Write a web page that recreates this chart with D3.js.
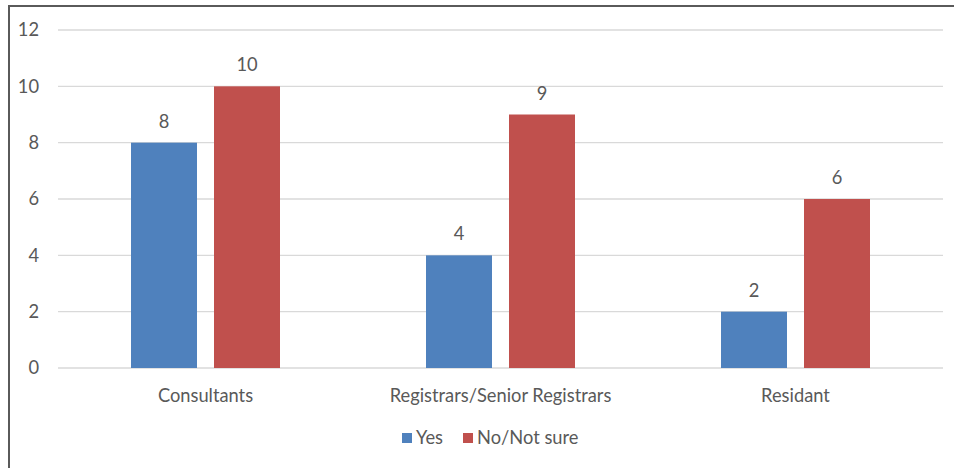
<!DOCTYPE html>
<html><head><meta charset="utf-8">
<script src="https://cdn.jsdelivr.net/npm/d3@7"></script>
<style>body{margin:0;background:#fff}svg{display:block}text{font-family:Lato,"Open Sans",sans-serif;fill:#595959}</style>
</head><body><svg id="c" width="954" height="468"></svg>
<script>
const categories = ["Consultants","Registrars/Senior Registrars","Residant"];
const seriesNames = ["Yes","No/Not sure"];
const yesValues = [8,4,2];
const noValues = [10,9,6];
const yTicks = [0,2,4,6,8,10,12];
const colors = ["#4F81BD","#C0504D"];

(function(){
const fs = "18.3px";
const svg = d3.select("#c");
svg.append("rect").attr("x",9).attr("y",6).attr("width",960).attr("height",480)
  .attr("fill","none").attr("stroke","#5a5a5a").attr("stroke-width",2);

const mL=58,mR=943,mT=30,mB=368;
const y = d3.scaleLinear().domain([0,12]).range([mB,mT]);
const x0 = d3.scaleBand().domain(categories).range([mL,mR]).padding(0);
const gw = x0.bandwidth();
const x1 = d3.scaleBand().domain(seriesNames).range([73, gw-73]).paddingInner(0.2048).paddingOuter(0);

svg.append("g").selectAll("line").data(yTicks).join("line")
  .attr("x1",mL).attr("x2",mR).attr("y1",d=>y(d)).attr("y2",d=>y(d))
  .attr("stroke","#d9d9d9").attr("stroke-width",1.3);
const yAxis = d3.axisLeft(y).tickValues(yTicks).tickSize(0).tickPadding(0);
const ga = svg.append("g").attr("transform","translate(39,0)").call(yAxis);
ga.select(".domain").remove();
ga.selectAll("text").style("font-size",fs).attr("fill","#595959").attr("font-family","Lato, 'Open Sans', sans-serif");

const data = categories.map((c,i)=>({cat:c, vals:[yesValues[i],noValues[i]]}));
const g = svg.append("g").selectAll("g").data(data).join("g")
  .attr("transform",d=>`translate(${x0(d.cat)},0)`);
g.selectAll("rect").data(d=>d.vals.map((v,j)=>({s:seriesNames[j],v,j}))).join("rect")
  .attr("x",d=>x1(d.s)).attr("width",x1.bandwidth())
  .attr("y",d=>y(d.v)).attr("height",d=>mB-y(d.v))
  .attr("fill",d=>colors[d.j]);
g.selectAll("text.v").data(d=>d.vals.map((v,j)=>({s:seriesNames[j],v,j}))).join("text")
  .attr("class","v").attr("x",d=>x1(d.s)+x1.bandwidth()/2).attr("y",d=>y(d.v)-15)
  .attr("text-anchor","middle").style("font-size",fs).text(d=>d.v);

svg.append("g").selectAll("text").data(categories).join("text")
  .attr("x",d=>x0(d)+gw/2).attr("y",402).attr("text-anchor","middle")
  .style("font-size",fs).text(d=>d);

const leg = svg.append("g");
const legX = [402,463];
seriesNames.forEach((s,i)=>{
  leg.append("rect").attr("x",legX[i]).attr("y",433).attr("width",10).attr("height",10).attr("fill",colors[i]);
  leg.append("text").attr("x",legX[i]+14).attr("y",444).style("font-size",fs).text(s);
});
})();
</script></body></html>
